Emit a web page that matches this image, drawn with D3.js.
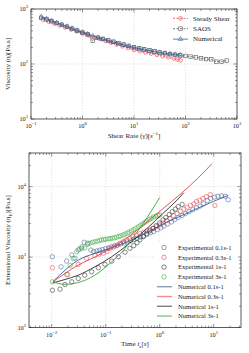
<!DOCTYPE html>
<html><head><meta charset="utf-8">
<script src="https://cdn.jsdelivr.net/npm/d3@7"></script>
<style>
body{margin:0;background:#fff}
svg{display:block}
text{font-family:"Liberation Serif","DejaVu Serif",serif;fill:#222}
</style></head>
<body><svg id="c" width="249" height="353"></svg>
<script>
// ---------- top chart data ----------
const steadyRate = [0.17,0.22,0.28,0.36,0.46,0.6,0.77,1.0,1.3,1.67,2.15,2.8,3.6,4.6,6.0,7.7,10,13,16.7,21.5,28,36,46,60,70,80];
const steadyEta  = [640,590,545,502,463,425,392,360,333,308,286,264,245,227,210,195,180,171,162,155,147,139,133,126,121,116];
const saosRate = [0.158,0.2,0.25,0.316,0.398,0.5,0.63,0.79,1,1.26,1.58,2,2.5,3.16,3.98,5,6.3,7.9,10,12.6,15.8,20,25,31.6,39.8,50,63,79,100,126,158,200,251,316,398,501,631];
const saosEta  = [690,645,600,555,515,475,437,403,372,345,265,300,285,270,254,240,226,214,202,193,184,176,169,162,157,151,147,143,140,136,132,127,123,122,110,110,115];
const numRate = [0.158,0.2,0.25,0.316,0.398,0.5,0.63,0.79,1,1.26,1.58,2,2.5,3.16,3.98,5,6.3,7.9,10,12.6,15.8,20,25,31.6,39.8,50,63,79];
const numEta  = [720,665,615,565,522,482,445,410,378,350,325,302,282,264,248,234,221,209,199,190,182,175,168,162,157,153,149,146];
const topLegend = ["Steady Shear","SAOS","Numerical"];

// ---------- bottom chart data ----------
const exp01T = [0.0103,0.0149,0.0189,0.0235,0.027,0.031,0.036,0.04,0.0465,0.053,0.06,0.068,0.077,0.087,0.1,0.113,0.128,0.145,0.165,0.19,0.22,0.25,0.29,0.33,0.38,0.44,0.5,0.58,0.67,0.77,0.9,1.05,1.2,1.4,1.65,1.9,2.2,2.6,3.0,3.5,4.1,4.8,5.6,6.5,7.6,8.8,10.3,12,14,16.4,18.6];
const exp01E = [1010,727,877,1070,960,1260,1330,1620,1570,1260,1200,1220,1250,1280,1320,1350,1400,1440,1480,1530,1580,1640,1700,1770,1840,1920,2000,2100,2200,2300,2450,2600,2750,2950,3150,3400,3650,3900,4150,4400,4700,5000,5300,5700,6300,6800,7100,7300,7400,7300,6500];
const exp03T = [0.0103,0.0197,0.031,0.044,0.063,0.075,0.09,0.105,0.12,0.14,0.16,0.184,0.21,0.244,0.28,0.32,0.37,0.43,0.5,0.58,0.67,0.77,0.88,1.0,1.15,1.35,1.55,1.8,2.1,2.4,2.8,3.2,3.7,4.3,4.8,5.5,6.3,7.3,8.6,10.5];
const exp03E = [705,565,787,957,1045,1100,1130,1200,1330,1380,1450,1570,1650,1750,1850,1950,2050,2150,2250,2350,2430,2550,2700,2850,3050,3300,3550,3850,4150,4450,4800,5100,5400,5700,6150,6400,6800,7200,7700,5400];
const exp1T = [0.0103,0.0143,0.0176,0.0235,0.031,0.041,0.055,0.073,0.097,0.129,0.171,0.228,0.28,0.33,0.38,0.43,0.5,0.57,0.65,0.75,0.86,1.0,1.15,1.3,1.5,1.7,1.95,2.2,2.6];
const exp1E = [338,350,408,445,496,553,617,705,787,877,1010,1170,1330,1450,1600,1750,1950,2150,2350,2550,2800,3050,3350,3650,4000,4400,4800,5200,5600];
const exp3T = [0.0103,0.019,0.022,0.025,0.029,0.033,0.036,0.041,0.046,0.051,0.057,0.063,0.07,0.077,0.084,0.092,0.1,0.11,0.12,0.132,0.145,0.16,0.175,0.19,0.21,0.228,0.25,0.27,0.3,0.33,0.36,0.4,0.44,0.48,0.53,0.58,0.64,0.7,0.77,0.85,0.93,1.0];
const exp3E = [445,565,760,957,1190,1300,1400,1350,1520,1570,1620,1650,1680,1720,1750,1770,1790,1810,1830,1850,1880,1920,1960,2000,2060,2120,2180,2260,2350,2450,2560,2680,2800,2950,3100,3250,3400,3550,3700,3800,3900,3950];
const num01T = [0.0105,0.0176,0.031,0.063,0.129,0.28,0.6,1.2,2.5,5,10,18.5];
const num01E = [445,650,905,1130,1360,1700,2250,3000,3850,4900,6200,7500];
const num03T = [0.0105,0.0176,0.031,0.063,0.129,0.28,0.6,1.2,2.5,5,9.2];
const num03E = [445,585,770,1000,1350,2000,3200,5000,8000,13000,21000];
const num1T = [0.0105,0.0176,0.031,0.063,0.129,0.28,0.6,1.2,2.0,2.8];
const num1E = [430,480,553,727,1010,1580,2600,4300,6200,8200];
const num3T = [0.0105,0.0176,0.031,0.063,0.129,0.228,0.28,0.45,0.7,1.0];
const num3E = [445,410,435,553,857,1330,1650,2700,4500,7000];
const botLegend = ["Experimental 0.1s-1","Experimental 0.3s-1","Experimental 1s-1","Experimental 3s-1","Numerical 0.1s-1","Numerical 0.3s-1","Numerical 1s-1","Numerical 3s-1"];

const C = {blue:"#3b5f96", red:"#e8404a", black:"#2a2a2a", green:"#3aa53a", gray:"#555"};
const svg = d3.select("#c");
const zip = (a,b)=>a.map((v,i)=>[v,b[i]]);

function expLabel(sel, e){
  sel.append("tspan").text("10");
  sel.append("tspan").attr("dy",-3).attr("font-size",4.6).text(e<0?"\u2212"+(-e):String(e));
}

function frame(x, y){
  const [x0,x1]=x.range(), [y0,y1]=y.range();
  const g = svg.append("g");
  const dx = x.domain().map(Math.log10), dy = y.domain().map(Math.log10);
  const inX = v=>v>=x.domain()[0]*0.999 && v<=x.domain()[1]*1.001;
  const inY = v=>v>=y.domain()[0]*0.999 && v<=y.domain()[1]*1.001;
  const majX=[],minX=[],majY=[],minY=[];
  for(let d=Math.floor(dx[0]); d<=Math.ceil(dx[1]); d++){
    const v=Math.pow(10,d); if(inX(v)) majX.push({v,d});
    for(let m=2;m<10;m++){const w=m*v; if(inX(w)) minX.push(w);}
  }
  for(let d=Math.floor(dy[0]); d<=Math.ceil(dy[1]); d++){
    const v=Math.pow(10,d); if(inY(v)) majY.push({v,d});
    for(let m=2;m<10;m++){const w=m*v; if(inY(w)) minY.push(w);}
  }
  // grid
  majX.forEach(t=>{const p=x(t.v); if(p>x0+1&&p<x1-1) g.append("line").attr("x1",p).attr("x2",p).attr("y1",y1).attr("y2",y0)
     .attr("stroke","#cfcfcf").attr("stroke-width",0.5).attr("stroke-dasharray","1.5,1.5");});
  majY.forEach(t=>{const p=y(t.v); if(p<y0-1&&p>y1+1) g.append("line").attr("y1",p).attr("y2",p).attr("x1",x0).attr("x2",x1)
     .attr("stroke","#cfcfcf").attr("stroke-width",0.5).attr("stroke-dasharray","1.5,1.5");});
  const tk = g.append("g").attr("stroke","#333").attr("stroke-width",0.5);
  const tick=(xa,ya,xb,yb)=>tk.append("line").attr("x1",xa).attr("y1",ya).attr("x2",xb).attr("y2",yb);
  majX.forEach(t=>{const p=x(t.v); tick(p,y0,p,y0-3.5); tick(p,y1,p,y1+3.5);});
  minX.forEach(v=>{const p=x(v); tick(p,y0,p,y0-2); tick(p,y1,p,y1+2);});
  majY.forEach(t=>{const p=y(t.v); tick(x0,p,x0+3.5,p); tick(x1,p,x1-3.5,p);});
  minY.forEach(v=>{const p=y(v); tick(x0,p,x0+2,p); tick(x1,p,x1-2,p);});
  // labels
  majX.forEach(t=>{ g.append("text").attr("x",x(t.v)).attr("y",y0+9).attr("text-anchor","middle").attr("font-size",6.3).call(s=>expLabel(s,t.d)); });
  majY.forEach(t=>{ g.append("text").attr("x",x0-3).attr("y",y(t.v)+2.2).attr("text-anchor","end").attr("font-size",6.3).call(s=>expLabel(s,t.d)); });
  return g;
}
function border(x,y){
  const [x0,x1]=x.range(), [y0,y1]=y.range();
  svg.append("rect").attr("x",x0).attr("y",y1).attr("width",x1-x0).attr("height",y0-y1)
    .attr("fill","none").attr("stroke","#333").attr("stroke-width",0.8);
}

// ================= TOP =================
const xT = d3.scaleLog().domain([0.1,1000]).range([31,237]);
const yT = d3.scaleLog().domain([10,1000]).range([119,9]);
frame(xT,yT);
const lineT = d3.line().x(d=>xT(d[0])).y(d=>yT(d[1]));
const gT = svg.append("g");
const topSeries = [
  {pts:zip(steadyRate,steadyEta), col:C.red, dash:"2,1.5", sym:"circle"},
  {pts:zip(saosRate,saosEta), col:C.gray, dash:"2,1.5", sym:"square"},
  {pts:zip(numRate,numEta), col:C.blue, dash:null, sym:"tri"}
];
function marker(g, sym, cx, cy, col){
  if(sym==="circle") g.append("circle").attr("cx",cx).attr("cy",cy).attr("r",1.9).attr("fill","none").attr("stroke",col).attr("stroke-width",0.6);
  else if(sym==="square") g.append("rect").attr("x",cx-1.8).attr("y",cy-1.8).attr("width",3.6).attr("height",3.6).attr("fill","none").attr("stroke",col).attr("stroke-width",0.6);
  else g.append("path").attr("transform",`translate(${cx},${cy})`).attr("d",d3.symbol(d3.symbolTriangle,9)()).attr("fill","none").attr("stroke",col).attr("stroke-width",0.6);
}
topSeries.forEach(s=>{
  gT.append("path").attr("d",lineT(s.pts)).attr("fill","none").attr("stroke",s.col).attr("stroke-width",0.8)
    .attr("stroke-dasharray",s.dash);
  s.pts.forEach(p=>marker(gT,s.sym,xT(p[0]),yT(p[1]),s.col));
});
border(xT,yT);
// legend top
const lgT = svg.append("g");
lgT.append("rect").attr("x",170).attr("y",12).attr("width",65).attr("height",32).attr("fill","#fff");
topLegend.forEach((name,i)=>{
  const yy = 18.3 + i*10.4, s=topSeries[i];
  lgT.append("line").attr("x1",173).attr("x2",188).attr("y1",yy).attr("y2",yy).attr("stroke",s.col).attr("stroke-width",0.8).attr("stroke-dasharray",s.dash);
  marker(lgT,s.sym,180.5,yy,s.col);
  lgT.append("text").attr("x",193).attr("y",yy+2.3).attr("font-size",7).text(name);
});
svg.append("text").attr("x",134).attr("y",138).attr("text-anchor","middle").attr("font-size",7)
  .call(t=>{t.append("tspan").text("Shear Rate (\u03B3\u0307)[");t.append("tspan").attr("font-style","italic").text("s");
    t.append("tspan").attr("dy",-3).attr("font-size",4.8).text("\u22121");t.append("tspan").attr("dy",3).text("]");});
svg.append("text").attr("transform","translate(10,64) rotate(-90)").attr("text-anchor","middle").attr("font-size",7)
  .text("Viscosity (\u03B7)[Pa.s]");

// ================= BOTTOM =================
const xB = d3.scaleLog().domain([0.0038,32]).range([29,241]);
const yB = d3.scaleLog().domain([100,30000]).range([327.5,153]);
frame(xB,yB);
const gB = svg.append("g");
const expSeries = [[exp01T,exp01E,C.blue],[exp03T,exp03E,C.red],[exp1T,exp1E,C.black],[exp3T,exp3E,C.green]];
const numSeries = [[num01T,num01E,C.blue],[num03T,num03E,C.red],[num1T,num1E,C.black],[num3T,num3E,C.green]];
expSeries.forEach(([t,e,col])=>{
  gB.selectAll(null).data(zip(t,e)).enter().append("circle")
    .attr("cx",d=>xB(d[0])).attr("cy",d=>yB(d[1])).attr("r",2.2)
    .attr("fill","none").attr("stroke",col).attr("stroke-width",0.6).attr("opacity",0.9);
});
const lineB = d3.line().x(d=>xB(d[0])).y(d=>yB(d[1])).curve(d3.curveMonotoneX);
numSeries.forEach(([t,e,col])=>{
  gB.append("path").attr("d",lineB(zip(t,e))).attr("fill","none").attr("stroke",col).attr("stroke-width",0.9);
});
border(xB,yB);
const lgB = svg.append("g");
lgB.append("rect").attr("x",154).attr("y",242).attr("width",84).attr("height",80).attr("fill","#fff");
botLegend.forEach((name,i)=>{
  const yy = 247.5 + i*9.8;
  const col = (i<4?expSeries[i]:numSeries[i-4])[2];
  if(i<4) lgB.append("circle").attr("cx",164).attr("cy",yy).attr("r",2.2).attr("fill","none").attr("stroke",col).attr("stroke-width",0.6);
  else lgB.append("line").attr("x1",157).attr("x2",172).attr("y1",yy).attr("y2",yy).attr("stroke",col).attr("stroke-width",1.4).attr("opacity",0.6);
  lgB.append("text").attr("x",178).attr("y",yy+2.2).attr("font-size",6.6).text(name);
});
svg.append("text").attr("x",135).attr("y",346).attr("text-anchor","middle").attr("font-size",7)
  .call(t=>{t.append("tspan").text("Time ");t.append("tspan").attr("font-style","italic").text("t");
    t.append("tspan").attr("dy",1.5).attr("font-size",4.8).attr("font-style","italic").text("e");
    t.append("tspan").attr("dy",-1.5).text("[");t.append("tspan").attr("font-style","italic").text("s");t.append("tspan").text("]");});
svg.append("text").attr("transform","translate(10,240) rotate(-90)").attr("text-anchor","middle").attr("font-size",7)
  .call(t=>{t.append("tspan").text("Extensional Viscosity (\u03B7");
    t.append("tspan").attr("dy",1.5).attr("font-size",4.8).text("E");
    t.append("tspan").attr("dy",-1.5).text(")[Pa.s]");});
</script></body></html>
